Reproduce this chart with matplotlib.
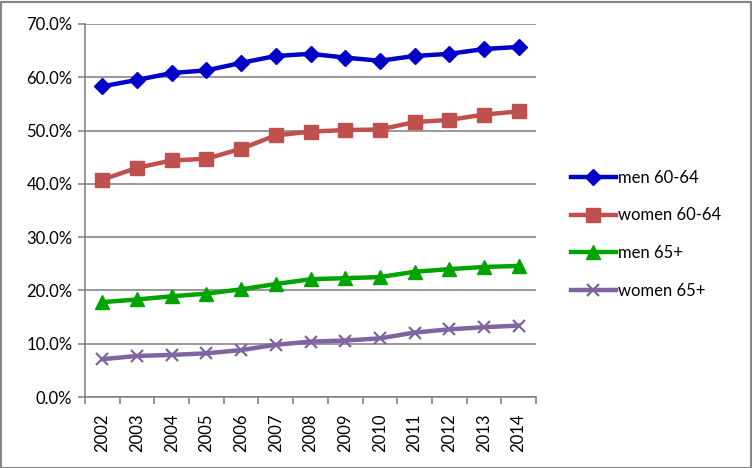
import matplotlib
matplotlib.use("Agg")
import matplotlib.pyplot as plt
from matplotlib.ticker import FuncFormatter, MultipleLocator, FixedLocator
from matplotlib.patches import Rectangle

years = ["2002", "2003", "2004", "2005", "2006", "2007", "2008",
         "2009", "2010", "2011", "2012", "2013", "2014"]
men_60_64 = [58.3, 59.5, 60.8, 61.3, 62.7, 64.0, 64.4, 63.7, 63.1, 64.0, 64.4, 65.3, 65.7]
women_60_64 = [40.8, 43.0, 44.4, 44.7, 46.6, 49.1, 49.8, 50.1, 50.2, 51.6, 52.0, 53.0, 53.6]
men_65 = [17.8, 18.3, 18.9, 19.4, 20.2, 21.2, 22.1, 22.3, 22.5, 23.5, 24.0, 24.4, 24.6]
women_65 = [7.1, 7.7, 7.9, 8.2, 8.8, 9.8, 10.4, 10.6, 11.0, 12.1, 12.7, 13.1, 13.4]

series = [
    ("men 60-64", men_60_64, "#0000C8", "D", 8.5),
    ("women 60-64", women_60_64, "#C0504D", "s", 9.5),
    ("men 65+", men_65, "#00A400", "^", 10),
    ("women 65+", women_65, "#8064A2", "x", 9),
]

plt.rcParams['font.family'] = ['Lato', 'DejaVu Sans']
fig = plt.figure(figsize=(7.52, 4.68), dpi=100)
W, H = 752, 468
ax = fig.add_axes([85 / W, 1 - 397 / H, (536 - 85) / W, (397 - 24) / H])

x = list(range(len(years)))
handles = []
for name, vals, col, mk, ms in series:
    kw = dict(color=col, lw=3.2, marker=mk, markersize=ms, markerfacecolor=col,
              markeredgecolor=col, label=name, solid_joinstyle='round', zorder=3)
    if mk == "x":
        kw["markeredgewidth"] = 1.6
    h, = ax.plot(x, vals, **kw)
    handles.append(h)

ax.set_xlim(-0.5, len(years) - 0.5)
ax.set_ylim(0, 70)
ax.yaxis.set_major_locator(MultipleLocator(10))
ax.yaxis.set_major_formatter(FuncFormatter(lambda v, p: f"{v:.1f}%"))
ax.grid(axis='y', color='#868686', lw=1.2)
ax.set_axisbelow(True)

ax.set_xticks(x)
ax.set_xticklabels(years, rotation=90)
ax.xaxis.set_minor_locator(FixedLocator([i - 0.5 for i in range(len(years) + 1)]))
ax.tick_params(axis='x', which='major', length=0, pad=12, labelsize=12)
ax.tick_params(axis='x', which='minor', length=5, width=1.2, color='#868686', direction='out')
ax.tick_params(axis='y', length=5, width=1.2, color='#868686', direction='out', labelsize=12, pad=4)

for s in ['top', 'right']:
    ax.spines[s].set_visible(False)
for s in ['left', 'bottom']:
    ax.spines[s].set_color('#868686')
    ax.spines[s].set_linewidth(1.2)

leg = fig.legend(handles=handles, loc='upper left', bbox_to_anchor=(564 / W, 1 - 163 / H),
                 frameon=False, fontsize=12, handlelength=2.7, handletextpad=0.15,
                 labelspacing=1.3, borderaxespad=0)

fig.patches.append(Rectangle((0.5 / W, 0.5 / H), (W - 2) / W, (H - 2) / H,
                             transform=fig.transFigure, fill=False,
                             edgecolor='#868686', lw=1.5))
fig.savefig("out.png", dpi=100)
